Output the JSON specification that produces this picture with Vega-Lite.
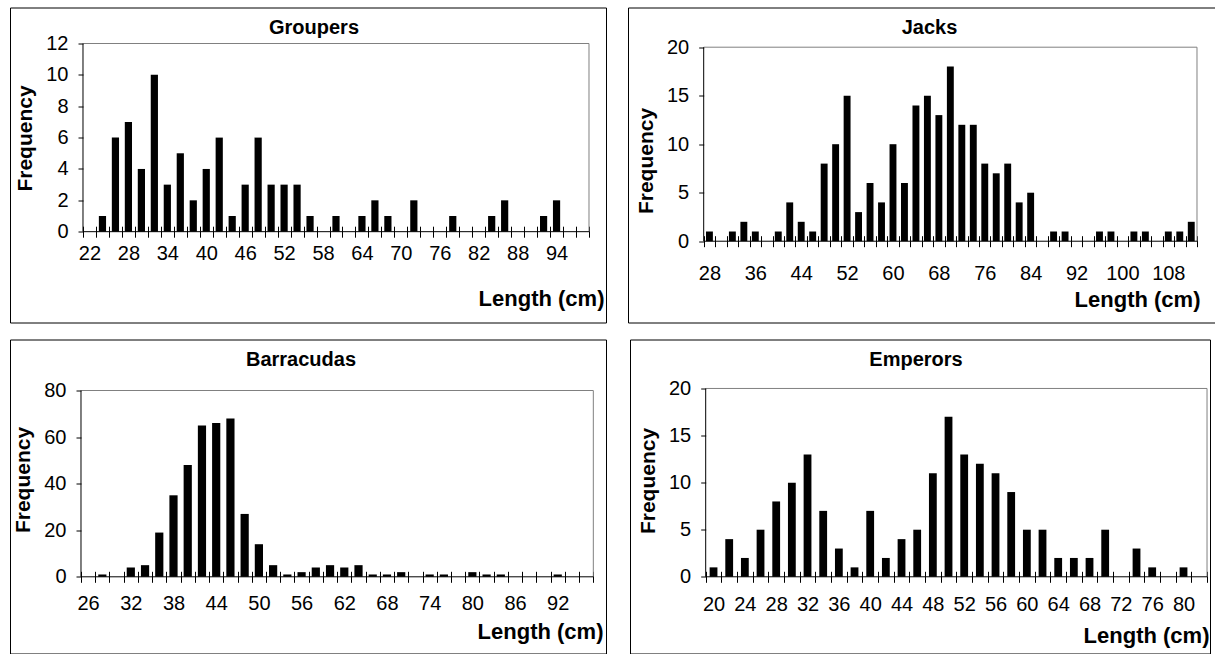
{
  "$schema": "https://vega.github.io/schema/vega-lite/v6.json",
  "padding": {"left": 9, "top": 6.5, "right": 0, "bottom": 0},
  "background": "white",
  "spacing": 15,
  "vconcat": [
    {
      "spacing": 20,
      "hconcat": [
        {
          "width": 596, "height": 315,
          "title": {"text": "Groupers", "offset": -46.5, "baseline": "alphabetic", "dx": 6},
          "data": {"values": [
            {"length": 22, "frequency": 0}, {"length": 24, "frequency": 1}, {"length": 26, "frequency": 6}, {"length": 28, "frequency": 7},
            {"length": 30, "frequency": 4}, {"length": 32, "frequency": 10}, {"length": 34, "frequency": 3}, {"length": 36, "frequency": 5},
            {"length": 38, "frequency": 2}, {"length": 40, "frequency": 4}, {"length": 42, "frequency": 6}, {"length": 44, "frequency": 1},
            {"length": 46, "frequency": 3}, {"length": 48, "frequency": 6}, {"length": 50, "frequency": 3}, {"length": 52, "frequency": 3},
            {"length": 54, "frequency": 3}, {"length": 56, "frequency": 1}, {"length": 58, "frequency": 0}, {"length": 60, "frequency": 1},
            {"length": 62, "frequency": 0}, {"length": 64, "frequency": 1}, {"length": 66, "frequency": 2}, {"length": 68, "frequency": 1},
            {"length": 70, "frequency": 0}, {"length": 72, "frequency": 2}, {"length": 74, "frequency": 0}, {"length": 76, "frequency": 0},
            {"length": 78, "frequency": 1}, {"length": 80, "frequency": 0}, {"length": 82, "frequency": 0}, {"length": 84, "frequency": 1},
            {"length": 86, "frequency": 2}, {"length": 88, "frequency": 0}, {"length": 90, "frequency": 0}, {"length": 92, "frequency": 1},
            {"length": 94, "frequency": 2}, {"length": 96, "frequency": 0}, {"length": 98, "frequency": 0}
          ]},
          "resolve": {"axis": {"x": "independent", "y": "independent"}},
          "layer": [
            {"data": {"values": [{}]}, "mark": {"type": "rule", "color": "#808080"},
             "encoding": {"x": {"datum": 21, "type": "quantitative", "axis": null}, "x2": {"datum": 99}, "y": {"datum": 12, "type": "quantitative", "axis": null}}},
            {"data": {"values": [{}]}, "mark": {"type": "rule", "color": "#808080"},
             "encoding": {"x": {"datum": 99, "type": "quantitative", "axis": null}, "y": {"datum": 0, "type": "quantitative", "axis": null}, "y2": {"datum": 12}}},
            {"mark": {"type": "bar", "color": "black", "width": 7.2, "orient": "vertical"},
             "encoding": {
               "x": {"field": "length", "type": "quantitative",
                     "scale": {"domain": [9.747, 101.623], "nice": false, "zero": false, "padding": 0},
                     "axis": {"orient": "bottom", "values": [22, 28, 34, 40, 46, 52, 58, 64, 70, 76, 82, 88, 94], "labelAngle": 0, "labelFlush": false, "ticks": false, "tickSize": 0, "offset": -90.8, "labelPadding": 12,
                              "title": "Length (cm)", "titleFontSize": 22, "titleX": 594, "titleY": 74, "titleAlign": "right", "titleBaseline": "alphabetic"}},
               "y": {"field": "frequency", "type": "quantitative",
                     "scale": {"domain": [-5.791, 14.296], "nice": false, "zero": false, "padding": 0},
                     "axis": {"orient": "left", "values": [0, 2, 4, 6, 8, 10, 12], "offset": -73, "tickSize": 5, "labelPadding": 10, "title": "Frequency", "titlePadding": 10, "titleY": 130.5}},
               "y2": {"datum": 0}
             }},
            {"data": {"values": [{}]}, "mark": {"type": "rule", "color": "black"},
             "encoding": {"x": {"datum": 21, "type": "quantitative", "axis": null}, "y": {"datum": 0, "type": "quantitative", "axis": null}, "y2": {"datum": 12}}},
            {"data": {"values": [{}]}, "mark": {"type": "rule", "color": "black"},
             "encoding": {
               "x": {"datum": 21, "type": "quantitative",
                     "axis": {"orient": "bottom", "values": [21, 23, 25, 27, 29, 31, 33, 35, 37, 39, 41, 43, 45, 47, 49, 51, 53, 55, 57, 59, 61, 63, 65, 67, 69, 71, 73, 75, 77, 79, 81, 83, 85, 87, 89, 91, 93, 95, 97, 99],
                              "labels": false, "domain": false, "ticks": true, "tickSize": 11, "offset": -96.3, "title": null}},
               "x2": {"datum": 99},
               "y": {"datum": 0, "type": "quantitative", "axis": null}}}
          ]
        },
        {
          "width": 587, "height": 315,
          "title": {"text": "Jacks", "offset": -46.5, "baseline": "alphabetic", "dx": 8},
          "data": {"values": [
            {"length": 28, "frequency": 1}, {"length": 30, "frequency": 0}, {"length": 32, "frequency": 1}, {"length": 34, "frequency": 2},
            {"length": 36, "frequency": 1}, {"length": 38, "frequency": 0}, {"length": 40, "frequency": 1}, {"length": 42, "frequency": 4},
            {"length": 44, "frequency": 2}, {"length": 46, "frequency": 1}, {"length": 48, "frequency": 8}, {"length": 50, "frequency": 10},
            {"length": 52, "frequency": 15}, {"length": 54, "frequency": 3}, {"length": 56, "frequency": 6}, {"length": 58, "frequency": 4},
            {"length": 60, "frequency": 10}, {"length": 62, "frequency": 6}, {"length": 64, "frequency": 14}, {"length": 66, "frequency": 15},
            {"length": 68, "frequency": 13}, {"length": 70, "frequency": 18}, {"length": 72, "frequency": 12}, {"length": 74, "frequency": 12},
            {"length": 76, "frequency": 8}, {"length": 78, "frequency": 7}, {"length": 80, "frequency": 8}, {"length": 82, "frequency": 4},
            {"length": 84, "frequency": 5}, {"length": 86, "frequency": 0}, {"length": 88, "frequency": 1}, {"length": 90, "frequency": 1},
            {"length": 92, "frequency": 0}, {"length": 94, "frequency": 0}, {"length": 96, "frequency": 1}, {"length": 98, "frequency": 1},
            {"length": 100, "frequency": 0}, {"length": 102, "frequency": 1}, {"length": 104, "frequency": 1}, {"length": 106, "frequency": 0},
            {"length": 108, "frequency": 1}, {"length": 110, "frequency": 1}, {"length": 112, "frequency": 2}
          ]},
          "resolve": {"axis": {"x": "independent", "y": "independent"}},
          "layer": [
            {"data": {"values": [{}]}, "mark": {"type": "rule", "color": "#808080"},
             "encoding": {"x": {"datum": 27, "type": "quantitative", "axis": null}, "x2": {"datum": 113}, "y": {"datum": 20, "type": "quantitative", "axis": null}}},
            {"data": {"values": [{}]}, "mark": {"type": "rule", "color": "#808080"},
             "encoding": {"x": {"datum": 113, "type": "quantitative", "axis": null}, "y": {"datum": 0, "type": "quantitative", "axis": null}, "y2": {"datum": 20}}},
            {"mark": {"type": "bar", "color": "black", "width": 6.9, "orient": "vertical"},
             "encoding": {
               "x": {"field": "length", "type": "quantitative",
                     "scale": {"domain": [13.803, 116.139], "nice": false, "zero": false, "padding": 0},
                     "axis": {"orient": "bottom", "values": [28, 36, 44, 52, 60, 68, 76, 84, 92, 100, 108], "labelAngle": 0, "labelFlush": false, "ticks": false, "tickSize": 0, "offset": -81.3, "labelPadding": 22,
                              "title": "Length (cm)", "titleFontSize": 22, "titleX": 572, "titleY": 65, "titleAlign": "right", "titleBaseline": "alphabetic"}},
               "y": {"field": "frequency", "type": "quantitative",
                     "scale": {"domain": [-8.381, 24.093], "nice": false, "zero": false, "padding": 0},
                     "axis": {"orient": "left", "values": [0, 5, 10, 15, 20], "offset": -75.7, "tickSize": 5, "labelPadding": 10, "title": "Frequency", "titlePadding": 10, "titleY": 153}},
               "y2": {"datum": 0}
             }},
            {"data": {"values": [{}]}, "mark": {"type": "rule", "color": "black"},
             "encoding": {"x": {"datum": 27, "type": "quantitative", "axis": null}, "y": {"datum": 0, "type": "quantitative", "axis": null}, "y2": {"datum": 20}}},
            {"data": {"values": [{}]}, "mark": {"type": "rule", "color": "black"},
             "encoding": {
               "x": {"datum": 27, "type": "quantitative",
                     "axis": {"orient": "bottom", "values": [27, 29, 31, 33, 35, 37, 39, 41, 43, 45, 47, 49, 51, 53, 55, 57, 59, 61, 63, 65, 67, 69, 71, 73, 75, 77, 79, 81, 83, 85, 87, 89, 91, 93, 95, 97, 99, 101, 103, 105, 107, 109, 111, 113],
                              "labels": false, "domain": false, "ticks": true, "tickSize": 11, "offset": -86.8, "title": null}},
               "x2": {"datum": 113},
               "y": {"datum": 0, "type": "quantitative", "axis": null}}}
          ]
        }
      ]
    },
    {
      "spacing": 22,
      "hconcat": [
        {
          "width": 596, "height": 314,
          "title": {"text": "Barracudas", "offset": -46.5, "baseline": "alphabetic", "dx": -7},
          "data": {"values": [
            {"length": 26, "frequency": 0}, {"length": 28, "frequency": 1}, {"length": 30, "frequency": 0}, {"length": 32, "frequency": 4},
            {"length": 34, "frequency": 5}, {"length": 36, "frequency": 19}, {"length": 38, "frequency": 35}, {"length": 40, "frequency": 48},
            {"length": 42, "frequency": 65}, {"length": 44, "frequency": 66}, {"length": 46, "frequency": 68}, {"length": 48, "frequency": 27},
            {"length": 50, "frequency": 14}, {"length": 52, "frequency": 5}, {"length": 54, "frequency": 1}, {"length": 56, "frequency": 2},
            {"length": 58, "frequency": 4}, {"length": 60, "frequency": 5}, {"length": 62, "frequency": 4}, {"length": 64, "frequency": 5},
            {"length": 66, "frequency": 1}, {"length": 68, "frequency": 1}, {"length": 70, "frequency": 2}, {"length": 72, "frequency": 0},
            {"length": 74, "frequency": 1}, {"length": 76, "frequency": 1}, {"length": 78, "frequency": 0}, {"length": 80, "frequency": 2},
            {"length": 82, "frequency": 1}, {"length": 84, "frequency": 1}, {"length": 86, "frequency": 0}, {"length": 88, "frequency": 0},
            {"length": 90, "frequency": 0}, {"length": 92, "frequency": 1}, {"length": 94, "frequency": 0}, {"length": 96, "frequency": 0}
          ]},
          "resolve": {"axis": {"x": "independent", "y": "independent"}},
          "layer": [
            {"data": {"values": [{}]}, "mark": {"type": "rule", "color": "#808080"},
             "encoding": {"x": {"datum": 25, "type": "quantitative", "axis": null}, "x2": {"datum": 97}, "y": {"datum": 80, "type": "quantitative", "axis": null}}},
            {"data": {"values": [{}]}, "mark": {"type": "rule", "color": "#808080"},
             "encoding": {"x": {"datum": 97, "type": "quantitative", "axis": null}, "y": {"datum": 0, "type": "quantitative", "axis": null}, "y2": {"datum": 80}}},
            {"mark": {"type": "bar", "color": "black", "width": 8.2, "orient": "vertical"},
             "encoding": {
               "x": {"field": "length", "type": "quantitative",
                     "scale": {"domain": [15.022, 98.782], "nice": false, "zero": false, "padding": 0},
                     "axis": {"orient": "bottom", "values": [26, 32, 38, 44, 50, 56, 62, 68, 74, 80, 86, 92], "labelAngle": 0, "labelFlush": false, "ticks": false, "tickSize": 0, "offset": -76.7, "labelPadding": 17,
                              "title": "Length (cm)", "titleFontSize": 22, "titleX": 593, "titleY": 62, "titleAlign": "right", "titleBaseline": "alphabetic"}},
               "y": {"field": "frequency", "type": "quantitative",
                     "scale": {"domain": [-32.93, 101.9], "nice": false, "zero": false, "padding": 0},
                     "axis": {"orient": "left", "values": [0, 20, 40, 60, 80], "offset": -71, "tickSize": 5, "labelPadding": 10, "title": "Frequency", "titlePadding": 10, "titleY": 140}},
               "y2": {"datum": 0}
             }},
            {"data": {"values": [{}]}, "mark": {"type": "rule", "color": "black"},
             "encoding": {"x": {"datum": 25, "type": "quantitative", "axis": null}, "y": {"datum": 0, "type": "quantitative", "axis": null}, "y2": {"datum": 80}}},
            {"data": {"values": [{}]}, "mark": {"type": "rule", "color": "black"},
             "encoding": {
               "x": {"datum": 25, "type": "quantitative",
                     "axis": {"orient": "bottom", "values": [25, 27, 29, 31, 33, 35, 37, 39, 41, 43, 45, 47, 49, 51, 53, 55, 57, 59, 61, 63, 65, 67, 69, 71, 73, 75, 77, 79, 81, 83, 85, 87, 89, 91, 93, 95, 97],
                              "labels": false, "domain": false, "ticks": true, "tickSize": 11, "offset": -82.2, "title": null}},
               "x2": {"datum": 97},
               "y": {"datum": 0, "type": "quantitative", "axis": null}}}
          ]
        },
        {
          "width": 580, "height": 314,
          "title": {"text": "Emperors", "offset": -46.5, "baseline": "alphabetic", "dx": -4},
          "data": {"values": [
            {"length": 20, "frequency": 1}, {"length": 22, "frequency": 4}, {"length": 24, "frequency": 2}, {"length": 26, "frequency": 5},
            {"length": 28, "frequency": 8}, {"length": 30, "frequency": 10}, {"length": 32, "frequency": 13}, {"length": 34, "frequency": 7},
            {"length": 36, "frequency": 3}, {"length": 38, "frequency": 1}, {"length": 40, "frequency": 7}, {"length": 42, "frequency": 2},
            {"length": 44, "frequency": 4}, {"length": 46, "frequency": 5}, {"length": 48, "frequency": 11}, {"length": 50, "frequency": 17},
            {"length": 52, "frequency": 13}, {"length": 54, "frequency": 12}, {"length": 56, "frequency": 11}, {"length": 58, "frequency": 9},
            {"length": 60, "frequency": 5}, {"length": 62, "frequency": 5}, {"length": 64, "frequency": 2}, {"length": 66, "frequency": 2},
            {"length": 68, "frequency": 2}, {"length": 70, "frequency": 5}, {"length": 72, "frequency": 0}, {"length": 74, "frequency": 3},
            {"length": 76, "frequency": 1}, {"length": 78, "frequency": 0}, {"length": 80, "frequency": 1}, {"length": 82, "frequency": 0}
          ]},
          "resolve": {"axis": {"x": "independent", "y": "independent"}},
          "layer": [
            {"data": {"values": [{}]}, "mark": {"type": "rule", "color": "#808080"},
             "encoding": {"x": {"datum": 19, "type": "quantitative", "axis": null}, "x2": {"datum": 83}, "y": {"datum": 20, "type": "quantitative", "axis": null}}},
            {"data": {"values": [{}]}, "mark": {"type": "rule", "color": "#808080"},
             "encoding": {"x": {"datum": 83, "type": "quantitative", "axis": null}, "y": {"datum": 0, "type": "quantitative", "axis": null}, "y2": {"datum": 20}}},
            {"mark": {"type": "bar", "color": "black", "width": 7.8, "orient": "vertical"},
             "encoding": {
               "x": {"field": "length", "type": "quantitative",
                     "scale": {"domain": [9.336, 83.381], "nice": false, "zero": false, "padding": 0},
                     "axis": {"orient": "bottom", "values": [20, 24, 28, 32, 36, 40, 44, 48, 52, 56, 60, 64, 68, 72, 76, 80], "labelAngle": 0, "labelFlush": false, "ticks": false, "tickSize": 0, "offset": -76.7, "labelPadding": 18,
                              "title": "Length (cm)", "titleFontSize": 22, "titleX": 579, "titleY": 66, "titleAlign": "right", "titleBaseline": "alphabetic"}},
               "y": {"field": "frequency", "type": "quantitative",
                     "scale": {"domain": [-8.147, 25.2], "nice": false, "zero": false, "padding": 0},
                     "axis": {"orient": "left", "values": [0, 5, 10, 15, 20], "offset": -75.7, "tickSize": 5, "labelPadding": 10, "title": "Frequency", "titlePadding": 10, "titleY": 141}},
               "y2": {"datum": 0}
             }},
            {"data": {"values": [{}]}, "mark": {"type": "rule", "color": "black"},
             "encoding": {"x": {"datum": 19, "type": "quantitative", "axis": null}, "y": {"datum": 0, "type": "quantitative", "axis": null}, "y2": {"datum": 20}}},
            {"data": {"values": [{}]}, "mark": {"type": "rule", "color": "black"},
             "encoding": {
               "x": {"datum": 19, "type": "quantitative",
                     "axis": {"orient": "bottom", "values": [19, 21, 23, 25, 27, 29, 31, 33, 35, 37, 39, 41, 43, 45, 47, 49, 51, 53, 55, 57, 59, 61, 63, 65, 67, 69, 71, 73, 75, 77, 79, 81, 83],
                              "labels": false, "domain": false, "ticks": true, "tickSize": 11, "offset": -82.2, "title": null}},
               "x2": {"datum": 83},
               "y": {"datum": 0, "type": "quantitative", "axis": null}}}
          ]
        }
      ]
    }
  ],
  "config": {
    "font": "Liberation Sans",
    "view": {"stroke": "black", "strokeWidth": 1},
    "title": {"fontSize": 20, "fontWeight": "bold", "color": "black", "anchor": "middle", "frame": "group"},
    "axis": {"labelFontSize": 20, "labelColor": "black", "titleFontSize": 21, "titleFontWeight": "bold", "titleColor": "black", "grid": false, "domain": false, "tickColor": "black", "labelOverlap": false}
  }
}
